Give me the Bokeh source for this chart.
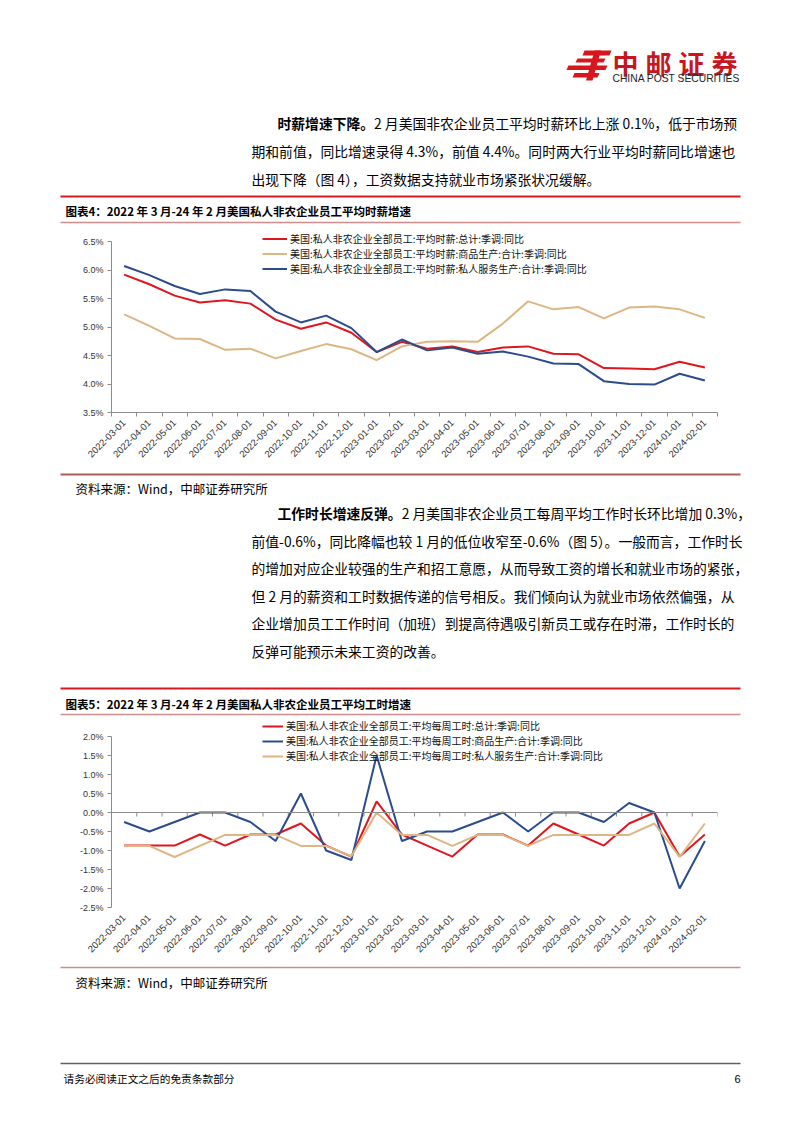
import math
from bokeh.plotting import figure
from bokeh.layouts import column
from bokeh.models import (Range1d, FixedTicker, Legend, LegendItem, Span,
                          PrintfTickFormatter, CustomJSTickFormatter)
from bokeh.core.properties import value
from bokeh.embed import file_html
from bokeh.resources import INLINE

# ---------------- data ----------------
dates = ["2022-03-01", "2022-04-01", "2022-05-01", "2022-06-01", "2022-07-01", "2022-08-01",
         "2022-09-01", "2022-10-01", "2022-11-01", "2022-12-01", "2023-01-01", "2023-02-01",
         "2023-03-01", "2023-04-01", "2023-05-01", "2023-06-01", "2023-07-01", "2023-08-01",
         "2023-09-01", "2023-10-01", "2023-11-01", "2023-12-01", "2024-01-01", "2024-02-01"]

wage_total = [5.92, 5.75, 5.55, 5.43, 5.47, 5.41, 5.13, 4.97, 5.08, 4.90, 4.56, 4.74,
              4.62, 4.66, 4.56, 4.64, 4.66, 4.53, 4.52, 4.28, 4.27, 4.26, 4.39, 4.29]
wage_goods = [5.22, 5.02, 4.80, 4.79, 4.60, 4.62, 4.45, 4.58, 4.70, 4.61, 4.42, 4.66,
              4.74, 4.75, 4.74, 5.06, 5.45, 5.31, 5.35, 5.15, 5.34, 5.36, 5.31, 5.16]
wage_services = [6.07, 5.91, 5.72, 5.58, 5.66, 5.63, 5.27, 5.08, 5.20, 4.98, 4.56, 4.78,
                 4.59, 4.64, 4.53, 4.57, 4.48, 4.36, 4.35, 4.05, 4.00, 3.99, 4.18, 4.06]

hours_total = [-0.87, -0.87, -0.87, -0.58, -0.87, -0.58, -0.58, -0.29, -0.87, -1.16, 0.29, -0.58,
               -0.87, -1.16, -0.58, -0.58, -0.87, -0.29, -0.58, -0.87, -0.29, 0.00, -1.16, -0.58]
hours_goods = [-0.25, -0.50, -0.25, 0.00, 0.00, -0.25, -0.75, 0.50, -1.00, -1.25, 1.50, -0.75,
               -0.50, -0.50, -0.25, 0.00, -0.50, 0.00, 0.00, -0.25, 0.25, 0.00, -2.00, -0.75]
hours_services = [-0.88, -0.88, -1.17, -0.88, -0.59, -0.59, -0.59, -0.88, -0.88, -1.15, 0.00, -0.59,
                  -0.59, -0.88, -0.59, -0.59, -0.88, -0.59, -0.59, -0.59, -0.59, -0.29, -1.17, -0.29]

wage_ticks = [3.5, 4.0, 4.5, 5.0, 5.5, 6.0, 6.5]
hours_ticks = [-2.5, -2.0, -1.5, -1.0, -0.5, 0.0, 0.5, 1.0, 1.5, 2.0]

wage_labels = ["美国:私人非农企业全部员工:平均时薪:总计:季调:同比",
               "美国:私人非农企业全部员工:平均时薪:商品生产:合计:季调:同比",
               "美国:私人非农企业全部员工:平均时薪:私人服务生产:合计:季调:同比"]
hours_labels = ["美国:私人非农企业全部员工:平均每周工时:总计:季调:同比",
                "美国:私人非农企业全部员工:平均每周工时:商品生产:合计:季调:同比",
                "美国:私人非农企业全部员工:平均每周工时:私人服务生产:合计:季调:同比"]

RED = "#E0161E"
TAN = "#DDB683"
BLUE = "#2B4C8C"
AXIS = "#8C8C8C"
CJK = "Noto Sans CJK SC"
W = 786
BODY = "13.8px"

# ---------------- helpers ----------------
def text_fig(top, bottom):
    p = figure(width=W, height=bottom - top, x_range=Range1d(0, W),
               y_range=Range1d(bottom, top), title=None, tools="",
               toolbar_location=None, output_backend="svg", min_border=0,
               x_axis_type=None, y_axis_type=None, outline_line_color=None,
               background_fill_color="white", border_fill_color="white",
               frame_align=False)
    p.grid.visible = False
    return p


def txt(p, x, y, s, size, bold=False, color="#000000", font=CJK, align="left"):
    p.text(x=[x], y=[y], text=[s], text_font=value(font), text_font_size=size,
           text_font_style="bold" if bold else "normal", text_color=color,
           text_align=align, text_baseline="middle")


def hline(p, x0, x1, y, color, width):
    p.segment(x0=[x0], y0=[y], x1=[x1], y1=[y], line_color=color, line_width=width)


def title_bar(p, y_thick, y_text, y_thin, s):
    hline(p, 60, 740, y_thick, "#D7191F", 2.2)
    txt(p, 65, y_text, s, "11.5px", bold=True)
    hline(p, 60, 740, y_thin, "#D28C8C", 1.3)


def chart_fig(top, bottom, frame_top, frame_bottom, y0, y1, yticks, ybounds):
    p = figure(width=W, height=bottom - top, x_range=Range1d(0, len(dates)),
               y_range=Range1d(y0, y1), title=None, tools="", toolbar_location=None,
               output_backend="svg", min_border_left=111, min_border_right=69,
               min_border_top=frame_top - top, min_border_bottom=bottom - frame_bottom,
               outline_line_color=None, background_fill_color="white",
               border_fill_color="white", frame_align=False)
    p.grid.visible = False
    ya = p.yaxis[0]
    ya.ticker = FixedTicker(ticks=yticks)
    ya.formatter = PrintfTickFormatter(format="%.1f%%")
    ya.bounds = ybounds
    ya.axis_line_color = AXIS
    ya.major_tick_line_color = AXIS
    ya.major_tick_out = 4
    ya.major_tick_in = 0
    ya.minor_tick_line_color = None
    ya.major_label_text_font = "Liberation Sans"
    ya.major_label_text_font_size = "9px"
    ya.major_label_text_color = "#333333"
    ya.major_label_standoff = 4

    xa = p.xaxis[0]
    xa.ticker = FixedTicker(ticks=[i + 0.5 for i in range(len(dates))],
                            minor_ticks=list(range(len(dates) + 1)))
    xa.formatter = CustomJSTickFormatter(args=dict(labels=dates),
                                         code="return labels[Math.floor(tick)];")
    xa.major_label_orientation = math.pi / 4
    xa.major_tick_out = 0
    xa.major_tick_in = 0
    xa.minor_tick_out = 4
    xa.minor_tick_in = 0
    xa.axis_line_color = AXIS
    xa.minor_tick_line_color = AXIS
    xa.major_label_text_font = "Liberation Sans"
    xa.major_label_text_font_size = "9.5px"
    xa.major_label_text_color = "#333333"
    xa.major_label_standoff = 5
    return p


def add_legend(p, renderers, labels, loc, row_h, glyph_w):
    items = [LegendItem(label=l, renderers=[r]) for l, r in zip(labels, renderers)]
    leg = Legend(items=items, location=loc, label_text_font=CJK,
                 label_text_font_size="10px", label_text_color="#111111",
                 glyph_width=glyph_w, glyph_height=row_h, label_height=row_h,
                 label_standoff=3, spacing=0, padding=0, margin=0,
                 border_line_color=None, background_fill_alpha=0)
    p.add_layout(leg)


xs = [i + 0.5 for i in range(len(dates))]

# ---------------- Fig A : header + paragraph 1 + title 4 ----------------
fa = text_fig(0, 228)
logo = [
    [(584, 50), (611, 50), (609, 55), (582, 55)],
    [(577, 58), (605, 58), (603, 62), (575, 62)],
    [(568, 65), (607, 65), (605, 69.5), (566, 69.5)],
    [(574, 72.5), (599, 72.5), (597, 77), (572, 77)],
    [(594, 50), (600.5, 50), (592, 80), (585.5, 80)],
]
fa.patches(xs=[[pt[0] for pt in s] for s in logo], ys=[[pt[1] for pt in s] for s in logo],
           fill_color="#D7161E", line_color=None)
for i, ch in enumerate("中邮证券"):
    txt(fa, 625 + 33 * i, 62, ch, "26px", bold=True, color="#C8161E", align="center")
txt(fa, 612, 77.5, "CHINA POST SECURITIES", "10.3px", color="#222222", font="Liberation Sans")

txt(fa, 277, 122, "时薪增速下降。", BODY, bold=True)
txt(fa, 277 + 7 * 13.8, 122, "2 月美国非农企业员工平均时薪环比上涨 0.1%，低于市场预", BODY)
txt(fa, 251, 150, "期和前值，同比增速录得 4.3%，前值 4.4%。同时两大行业平均时薪同比增速也", BODY)
txt(fa, 251, 178, "出现下降（图 4），工资数据支持就业市场紧张状况缓解。", BODY)
title_bar(fa, 196, 210, 222, "图表4：2022 年 3 月-24 年 2 月美国私人非农企业员工平均时薪增速")

# ---------------- Fig B : chart 4 ----------------
fb = chart_fig(228, 470, 228, 412, 3.5, 3.5 + (412 - 228) / 57.0, wage_ticks, (3.5, 6.5))
r1 = fb.line(xs, wage_total, line_color=RED, line_width=2)
r2 = fb.line(xs, wage_goods, line_color=TAN, line_width=2)
r3 = fb.line(xs, wage_services, line_color=BLUE, line_width=2)
add_legend(fb, [r1, r2, r3], wage_labels, (151, 412 - 276), 15, 25)

# ---------------- Fig C : source + paragraph 2 + title 5 ----------------
fc = text_fig(470, 717)
hline(fc, 60, 740, 474, "#B4595B", 2)
txt(fc, 75, 488, "资料来源：Wind，中邮证券研究所", "12.5px")
txt(fc, 277, 512, "工作时长增速反弹。", BODY, bold=True)
txt(fc, 277 + 9 * 13.8, 512, "2 月美国非农企业员工每周平均工作时长环比增加 0.3%，", BODY)
txt(fc, 251, 540, "前值-0.6%，同比降幅也较 1 月的低位收窄至-0.6%（图 5）。一般而言，工作时长", BODY)
txt(fc, 251, 567, "的增加对应企业较强的生产和招工意愿，从而导致工资的增长和就业市场的紧张，", BODY)
txt(fc, 251, 595, "但 2 月的薪资和工时数据传递的信号相反。我们倾向认为就业市场依然偏强，从", BODY)
txt(fc, 251, 622, "企业增加员工工作时间（加班）到提高待遇吸引新员工或存在时滞，工作时长的", BODY)
txt(fc, 251, 650, "反弹可能预示未来工资的改善。", BODY)
title_bar(fc, 688, 703, 714, "图表5：2022 年 3 月-24 年 2 月美国私人非农企业员工平均工时增速")

# ---------------- Fig D : chart 5 ----------------
pxu = (907 - 736) / 4.5
fd = chart_fig(717, 962, 717, 907, -2.5, -2.5 + (907 - 717) / pxu, hours_ticks, (-2.5, 2.0))
fd.xaxis[0].axis_line_color = None
fd.xaxis[0].minor_tick_line_color = None
fd.add_layout(Span(location=0, dimension="width", line_color=AXIS, line_width=1))
bounds = list(range(len(dates) + 1))
fd.segment(x0=bounds, y0=[0] * len(bounds), x1=bounds, y1=[-4 / pxu] * len(bounds),
           line_color=AXIS, line_width=1)
s1 = fd.line(xs, hours_total, line_color=RED, line_width=2)
s2 = fd.line(xs, hours_goods, line_color=BLUE, line_width=2)
s3 = fd.line(xs, hours_services, line_color=TAN, line_width=2)
add_legend(fd, [s1, s2, s3], hours_labels, (151, 907 - 763), 14, 21)

# ---------------- Fig E : source + footer ----------------
fe = text_fig(962, 1117)
hline(fe, 60, 740, 967, "#D08A8C", 1.6)
txt(fe, 75, 982, "资料来源：Wind，中邮证券研究所", "12.5px")
hline(fe, 60, 740, 1063, "#606060", 1.5)
txt(fe, 63, 1078, "请务必阅读正文之后的免责条款部分", "10.7px")
txt(fe, 737, 1078, "6", "11px", align="center", font="Liberation Sans")

layout = column(fa, fb, fc, fd, fe, spacing=0)
open("out.html", "w").write(file_html(layout, INLINE, title="chart"))
